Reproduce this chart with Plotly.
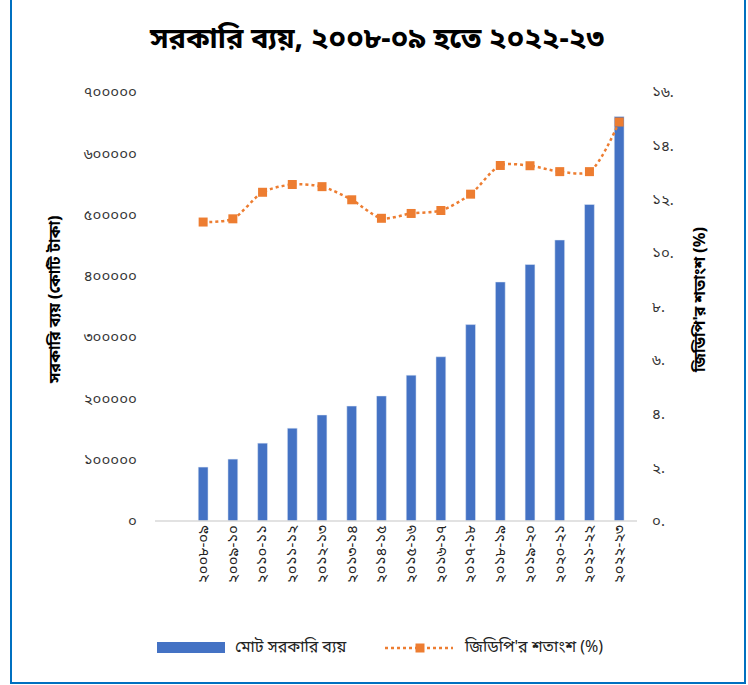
import plotly.graph_objects as go

# ---------------- data ----------------
years = ["২০০৮-০৯", "২০০৯-১০", "২০১০-১১", "২০১১-১২", "২০১২-১৩", "২০১৩-১৪", "২০১৪-১৫",
         "২০১৫-১৬", "২০১৬-১৭", "২০১৭-১৮", "২০১৮-১৯", "২০১৯-২০", "২০২০-২১", "২০২১-২২", "২০২২-২৩"]
spending = [88000, 101000, 127000, 151500, 173000, 187500, 204000,
            238000, 268000, 320500, 390000, 418500, 458500, 516500, 660000]
gdp_share = [11.15, 11.27, 12.26, 12.55, 12.47, 11.98, 11.29,
             11.47, 11.58, 12.19, 13.26, 13.25, 13.03, 13.03, 14.88]

left_tickvals = [0, 100000, 200000, 300000, 400000, 500000, 600000, 700000]
left_ticktext = ["০", "১০০০০০", "২০০০০০", "৩০০০০০", "৪০০০০০", "৫০০০০০", "৬০০০০০", "৭০০০০০"]
right_tickvals = [0, 2, 4, 6, 8, 10, 12, 14, 16]
right_ticktext = ["০.", "২.", "৪.", "৬.", "৮.", "১০.", "১২.", "১৪.", "১৬."]

title_text = "সরকারি ব্যয়, ২০০৮-০৯ হতে ২০২২-২৩"
left_title = "সরকারি ব্যয় (কোটি টাকা)"
right_title = "জিডিপি'র শতাংশ (%)"
bar_name = "মোট সরকারি ব্যয়"
line_name = "জিডিপি'র শতাংশ (%)"

BLUE = "#4472C4"
ORANGE = "#ED7D31"
FONT = "Noto Sans Bengali, Noto Sans, sans-serif"

x_idx = list(range(len(years)))

fig = go.Figure()
fig.add_trace(go.Bar(x=x_idx, y=spending, name=bar_name, marker=dict(color=BLUE),
                     width=0.33, yaxis="y"))
fig.add_trace(go.Scatter(x=x_idx, y=gdp_share, name=line_name, yaxis="y2",
                         mode="lines+markers",
                         line=dict(color=ORANGE, width=2.5, dash="dot", shape="spline", smoothing=0.8),
                         marker=dict(symbol="square", size=9, color=ORANGE)))

# plot area in pixels: x 155..637, y 92..521
W, H = 748, 685
L, R, T, B = 155, 637, 92, 521
pw, ph = R - L, B - T

def px(xp):
    return (xp - L) / pw

def py(yp):
    return (B - yp) / ph

shapes = [
    # frame (left, right, bottom)
    dict(type="line", xref="paper", yref="paper", x0=px(11), x1=px(11), y0=py(0), y1=py(684),
         line=dict(color="#0070C0", width=2)),
    dict(type="line", xref="paper", yref="paper", x0=px(745), x1=px(745), y0=py(0), y1=py(684),
         line=dict(color="#0070C0", width=2)),
    dict(type="line", xref="paper", yref="paper", x0=px(11), x1=px(745), y0=py(683), y1=py(683),
         line=dict(color="#0070C0", width=2)),
    # axis baseline
    dict(type="line", xref="paper", yref="paper", x0=0, x1=1, y0=0, y1=0,
         line=dict(color="#D9D9D9", width=1.5)),
    # legend symbols
    dict(type="rect", xref="paper", yref="paper", x0=px(157), x1=px(225), y0=py(653), y1=py(642),
         fillcolor=BLUE, line=dict(width=0)),
    dict(type="line", xref="paper", yref="paper", x0=px(385), x1=px(453), y0=py(648), y1=py(648),
         line=dict(color=ORANGE, width=2.5, dash="dot")),
    dict(type="rect", xref="paper", yref="paper", x0=px(415.5), x1=px(424.5), y0=py(652.5), y1=py(643.5),
         fillcolor=ORANGE, line=dict(width=0)),
]

annotations = [
    dict(text="<b>" + left_title + "</b>", xref="paper", yref="paper", x=px(56), y=py(300),
         textangle=-90, showarrow=False, font=dict(size=16, color="black", family=FONT),
         xanchor="center", yanchor="middle"),
    dict(text="<b>" + right_title + "</b>", xref="paper", yref="paper", x=px(701), y=py(300),
         textangle=-90, showarrow=False, font=dict(size=16, color="black", family=FONT),
         xanchor="center", yanchor="middle"),
    dict(text=bar_name, xref="paper", yref="paper", x=px(233), y=py(648), showarrow=False,
         xanchor="left", yanchor="middle", font=dict(size=16, color="#222", family=FONT)),
    dict(text=line_name, xref="paper", yref="paper", x=px(462), y=py(648), showarrow=False,
         xanchor="left", yanchor="middle", font=dict(size=16, color="#222", family=FONT)),
]

fig.update_layout(
    width=W, height=H,
    margin=dict(l=L, r=W - R, t=T, b=H - B),
    paper_bgcolor="white", plot_bgcolor="white",
    showlegend=False,
    title=dict(text="<b>" + title_text + "</b>", x=377 / W, xref="container", y=1 - 38 / H,
               yref="container", yanchor="middle",
               xanchor="center", font=dict(size=29, color="black", family=FONT)),
    font=dict(family=FONT, color="#333"),
    xaxis=dict(tickmode="array", tickvals=x_idx, ticktext=years, tickangle=-90,
               range=[-1.62, 14.6], showgrid=False, zeroline=False,
               showline=False, ticks="", tickfont=dict(size=15, color="#222")),
    yaxis=dict(range=[0, 700000], tickmode="array", tickvals=left_tickvals, ticktext=left_ticktext,
               showgrid=False, zeroline=False,
               showline=False, tickfont=dict(size=15, color="#333"), ticklabelstandoff=17),
    yaxis2=dict(range=[0, 16], overlaying="y", side="right", tickmode="array",
                tickvals=right_tickvals, ticktext=right_ticktext, showgrid=False, zeroline=False,
                showline=False, tickfont=dict(size=15, color="#333"), ticklabelstandoff=14),
    shapes=shapes,
    annotations=annotations,
)

fig.write_html("out.html", config={"displayModeBar": False},
               post_script="document.body.style.margin='0';")
